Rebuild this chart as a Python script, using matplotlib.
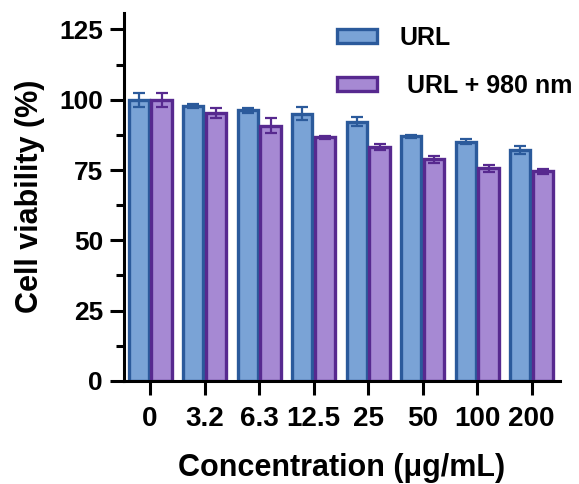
import numpy as np
import matplotlib
matplotlib.use("Agg")
import matplotlib.pyplot as plt
from matplotlib.ticker import MultipleLocator

plt.rcParams['font.family'] = ['Liberation Sans', 'DejaVu Sans']
plt.rcParams['font.weight'] = 'bold'

concentrations = ['0', '3.2', '6.3', '12.5', '25', '50', '100', '200']
url_mean = [100.0, 97.8, 96.2, 95.0, 92.2, 87.0, 85.1, 82.0]
url_err = [2.5, 0.8, 1.0, 2.3, 1.5, 0.5, 1.0, 1.4]
nir_mean = [100.0, 95.2, 90.8, 86.6, 83.3, 78.8, 75.6, 74.5]
nir_err = [2.5, 1.7, 2.8, 0.4, 1.0, 1.2, 1.3, 1.0]

blue_fill, blue_edge = '#7aa3d6', '#2b5a9b'
purple_fill, purple_edge = '#a689d3', '#57298f'

fig = plt.figure(figsize=(5.79, 4.84), dpi=100)
ax = fig.add_axes([0.214, 0.213, 0.753, 0.761])

x = np.arange(len(concentrations))
w = 0.37
off = 0.21

ax.bar(x - off, url_mean, w, color=blue_fill, edgecolor=blue_edge, linewidth=2.4,
       label='URL', zorder=2)
ax.bar(x + off, nir_mean, w, color=purple_fill, edgecolor=purple_edge, linewidth=2.4,
       label=' URL + 980 nm', zorder=2)
ax.errorbar(x - off, url_mean, yerr=url_err, fmt='none', ecolor=blue_edge,
            elinewidth=1.6, capsize=4.3, capthick=1.6, zorder=3)
ax.errorbar(x + off, nir_mean, yerr=nir_err, fmt='none', ecolor=purple_edge,
            elinewidth=1.6, capsize=4.3, capthick=1.6, zorder=3)

ax.set_xlim(-0.48, 7.52)
ax.set_ylim(0, 131)
ax.set_xticks(x)
ax.set_xticklabels(concentrations)
ax.yaxis.set_major_locator(MultipleLocator(25))
ax.yaxis.set_minor_locator(MultipleLocator(12.5))
ax.set_yticks([0, 25, 50, 75, 100, 125])

for s in ['top', 'right']:
    ax.spines[s].set_visible(False)
for s in ['left', 'bottom']:
    ax.spines[s].set_linewidth(2.2)

ax.tick_params(axis='both', which='major', width=2.2, length=10)
ax.tick_params(axis='y', which='major', labelsize=19, pad=5)
ax.tick_params(axis='x', which='major', labelsize=20, pad=8)
ax.tick_params(axis='y', which='minor', width=2.2, length=6)
ax.tick_params(axis='x', which='minor', length=0)
for lab in ax.get_xticklabels() + ax.get_yticklabels():
    lab.set_fontweight('bold')

ax.set_xlabel('Concentration (μg/mL)', fontsize=22, fontweight='bold', labelpad=15)
ax.set_ylabel('Cell viability (%)', fontsize=22, fontweight='bold', labelpad=10)

leg = ax.legend(loc='upper left', bbox_to_anchor=(337 / 579, 1 - 26 / 484),
                bbox_transform=fig.transFigure, frameon=False, fontsize=18,
                handlelength=1.6, handleheight=0.48, handletextpad=0.9,
                labelspacing=0.95, borderpad=0, borderaxespad=0)
for t in leg.get_texts():
    t.set_fontweight('bold')

fig.savefig('out.png', dpi=100)
